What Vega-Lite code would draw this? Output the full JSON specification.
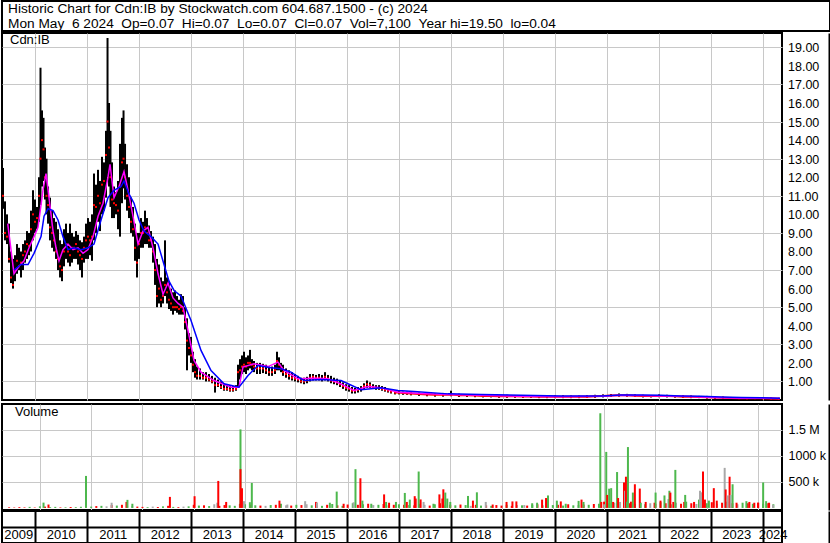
{
  "$schema": "https://vega.github.io/schema/vega-lite/v6.json",
  "background": "white",
  "padding": 0,
  "spacing": 0,
  "resolve": {"scale": {"color": "independent"}},
  "config": {
    "font": "Liberation Sans",
    "view": {"stroke": "black", "strokeWidth": 2},
    "axis": {"labelFont": "Liberation Sans", "labelColor": "black", "labelFontSize": 12.5, "gridColor": "#c8c8c8", "gridWidth": 1, "gridOpacity": 1, "labelOverlap": false}
  },
  "datasets": {
    "px": [
      {"t":2009.378,"hi":12.5,"lo":10.3,"cl":11.0},{"t":2009.417,"hi":10.7,"lo":8.6,"cl":9.0},{"t":2009.455,"hi":10.0,"lo":8.4,"cl":8.8},{"t":2009.494,"hi":9.5,"lo":7.4,"cl":7.6},{"t":2009.532,"hi":8.0,"lo":6.3,"cl":6.6},{"t":2009.571,"hi":7.6,"lo":6.0,"cl":6.2},{"t":2009.609,"hi":7.8,"lo":6.4,"cl":7.0},{"t":2009.648,"hi":8.4,"lo":6.8,"cl":7.5},{"t":2009.686,"hi":8.2,"lo":7.0,"cl":7.2},{"t":2009.725,"hi":8.0,"lo":6.6,"cl":7.4},{"t":2009.763,"hi":8.4,"lo":7.0,"cl":7.8},{"t":2009.802,"hi":8.6,"lo":7.4,"cl":8.0},{"t":2009.840,"hi":9.1,"lo":7.6,"cl":8.4},{"t":2009.879,"hi":9.0,"lo":7.8,"cl":8.3},{"t":2009.917,"hi":10.2,"lo":8.0,"cl":9.2},{"t":2009.956,"hi":11.3,"lo":8.6,"cl":10.0},{"t":2009.994,"hi":10.8,"lo":9.0,"cl":9.6},{"t":2010.033,"hi":10.4,"lo":9.2,"cl":9.8},{"t":2010.071,"hi":12.0,"lo":9.6,"cl":11.0},{"t":2010.100,"hi":17.9,"lo":10.5,"cl":13.0},{"t":2010.129,"hi":15.6,"lo":11.5,"cl":14.0},{"t":2010.158,"hi":15.2,"lo":11.8,"cl":13.5},{"t":2010.187,"hi":13.6,"lo":10.8,"cl":12.0},{"t":2010.216,"hi":13.0,"lo":10.0,"cl":11.0},{"t":2010.245,"hi":11.5,"lo":9.5,"cl":10.5},{"t":2010.283,"hi":10.9,"lo":8.6,"cl":9.3},{"t":2010.322,"hi":10.2,"lo":8.2,"cl":9.0},{"t":2010.360,"hi":9.8,"lo":8.0,"cl":8.6},{"t":2010.399,"hi":9.6,"lo":7.6,"cl":8.0},{"t":2010.437,"hi":9.2,"lo":7.0,"cl":7.6},{"t":2010.476,"hi":8.6,"lo":6.6,"cl":7.2},{"t":2010.514,"hi":8.4,"lo":6.4,"cl":7.0},{"t":2010.552,"hi":9.2,"lo":7.2,"cl":8.0},{"t":2010.591,"hi":9.5,"lo":7.6,"cl":8.4},{"t":2010.629,"hi":9.0,"lo":7.4,"cl":8.0},{"t":2010.668,"hi":9.5,"lo":7.2,"cl":7.8},{"t":2010.706,"hi":9.0,"lo":7.4,"cl":8.2},{"t":2010.745,"hi":8.8,"lo":7.6,"cl":8.2},{"t":2010.783,"hi":9.1,"lo":7.6,"cl":8.4},{"t":2010.822,"hi":8.9,"lo":7.3,"cl":8.0},{"t":2010.860,"hi":8.6,"lo":7.0,"cl":7.8},{"t":2010.899,"hi":8.5,"lo":6.6,"cl":7.6},{"t":2010.937,"hi":8.8,"lo":7.4,"cl":8.2},{"t":2010.976,"hi":9.5,"lo":7.6,"cl":8.6},{"t":2011.014,"hi":9.8,"lo":7.6,"cl":8.8},{"t":2011.053,"hi":9.6,"lo":7.8,"cl":8.6},{"t":2011.091,"hi":10.0,"lo":7.5,"cl":8.8},{"t":2011.130,"hi":12.2,"lo":8.6,"cl":10.5},{"t":2011.168,"hi":11.6,"lo":9.0,"cl":10.4},{"t":2011.207,"hi":12.4,"lo":9.6,"cl":11.0},{"t":2011.245,"hi":11.8,"lo":9.1,"cl":10.6},{"t":2011.284,"hi":13.1,"lo":10.0,"cl":11.6},{"t":2011.322,"hi":12.8,"lo":10.2,"cl":11.8},{"t":2011.361,"hi":14.5,"lo":10.9,"cl":13.2},{"t":2011.390,"hi":19.5,"lo":12.0,"cl":15.0},{"t":2011.419,"hi":16.0,"lo":11.5,"cl":13.6},{"t":2011.447,"hi":14.5,"lo":10.4,"cl":12.0},{"t":2011.476,"hi":12.8,"lo":9.8,"cl":10.8},{"t":2011.515,"hi":11.5,"lo":9.8,"cl":10.6},{"t":2011.553,"hi":11.2,"lo":10.0,"cl":10.5},{"t":2011.592,"hi":11.8,"lo":9.2,"cl":10.2},{"t":2011.630,"hi":13.8,"lo":8.8,"cl":11.5},{"t":2011.669,"hi":15.2,"lo":10.6,"cl":12.8},{"t":2011.698,"hi":15.6,"lo":11.4,"cl":13.0},{"t":2011.727,"hi":13.8,"lo":10.8,"cl":12.0},{"t":2011.765,"hi":12.7,"lo":10.2,"cl":11.0},{"t":2011.803,"hi":12.0,"lo":9.8,"cl":10.4},{"t":2011.842,"hi":10.9,"lo":9.0,"cl":9.6},{"t":2011.880,"hi":10.4,"lo":8.8,"cl":9.2},{"t":2011.919,"hi":9.5,"lo":7.5,"cl":8.2},{"t":2011.957,"hi":9.0,"lo":6.6,"cl":7.4},{"t":2011.996,"hi":9.0,"lo":7.6,"cl":8.4},{"t":2012.034,"hi":9.8,"lo":8.2,"cl":9.0},{"t":2012.073,"hi":9.6,"lo":8.2,"cl":9.0},{"t":2012.111,"hi":10.2,"lo":8.4,"cl":9.3},{"t":2012.150,"hi":9.8,"lo":8.4,"cl":9.0},{"t":2012.188,"hi":9.4,"lo":8.2,"cl":8.6},{"t":2012.227,"hi":9.1,"lo":8.2,"cl":8.6},{"t":2012.265,"hi":8.8,"lo":7.4,"cl":8.0},{"t":2012.304,"hi":8.4,"lo":6.2,"cl":7.0},{"t":2012.342,"hi":7.6,"lo":5.0,"cl":5.6},{"t":2012.381,"hi":7.3,"lo":5.2,"cl":6.0},{"t":2012.419,"hi":6.6,"lo":5.0,"cl":5.4},{"t":2012.458,"hi":6.4,"lo":5.2,"cl":5.6},{"t":2012.496,"hi":8.6,"lo":5.6,"cl":6.2},{"t":2012.535,"hi":6.6,"lo":5.2,"cl":5.8},{"t":2012.573,"hi":6.4,"lo":4.9,"cl":5.4},{"t":2012.612,"hi":6.0,"lo":4.8,"cl":5.2},{"t":2012.650,"hi":5.8,"lo":4.6,"cl":5.0},{"t":2012.689,"hi":5.9,"lo":4.8,"cl":5.0},{"t":2012.727,"hi":5.6,"lo":4.7,"cl":5.0},{"t":2012.766,"hi":5.4,"lo":4.6,"cl":4.9},{"t":2012.804,"hi":5.7,"lo":4.6,"cl":5.0},{"t":2012.843,"hi":5.6,"lo":4.6,"cl":4.8},{"t":2012.881,"hi":5.0,"lo":3.8,"cl":4.2},{"t":2012.920,"hi":4.4,"lo":1.6,"cl":3.2},{"t":2012.958,"hi":3.6,"lo":2.4,"cl":2.8},{"t":2012.997,"hi":3.4,"lo":2.0,"cl":2.4},{"t":2013.035,"hi":2.6,"lo":1.5,"cl":1.9},{"t":2013.074,"hi":2.2,"lo":1.2,"cl":1.5},{"t":2013.112,"hi":1.8,"lo":1.1,"cl":1.3},{"t":2013.170,"hi":1.7,"lo":1.1,"cl":1.3},{"t":2013.228,"hi":1.5,"lo":1.1,"cl":1.2},{"t":2013.285,"hi":1.5,"lo":1.0,"cl":1.2},{"t":2013.343,"hi":1.4,"lo":1.0,"cl":1.1},{"t":2013.401,"hi":1.3,"lo":0.9,"cl":1.0},{"t":2013.459,"hi":1.2,"lo":0.4,"cl":0.8},{"t":2013.516,"hi":1.1,"lo":0.7,"cl":0.8},{"t":2013.574,"hi":1.0,"lo":0.6,"cl":0.7},{"t":2013.632,"hi":0.9,"lo":0.5,"cl":0.6},{"t":2013.690,"hi":0.8,"lo":0.5,"cl":0.6},{"t":2013.747,"hi":0.8,"lo":0.45,"cl":0.55},{"t":2013.805,"hi":0.75,"lo":0.45,"cl":0.55},{"t":2013.863,"hi":0.8,"lo":0.5,"cl":0.6},{"t":2013.901,"hi":1.9,"lo":0.7,"cl":1.5},{"t":2013.940,"hi":2.2,"lo":1.1,"cl":1.6},{"t":2013.978,"hi":2.4,"lo":1.4,"cl":1.8},{"t":2014.017,"hi":2.6,"lo":1.5,"cl":1.9},{"t":2014.055,"hi":2.3,"lo":1.4,"cl":1.8},{"t":2014.094,"hi":2.4,"lo":1.6,"cl":2.0},{"t":2014.132,"hi":2.7,"lo":1.7,"cl":2.0},{"t":2014.171,"hi":2.2,"lo":1.6,"cl":1.9},{"t":2014.209,"hi":2.1,"lo":1.5,"cl":1.8},{"t":2014.267,"hi":2.0,"lo":1.4,"cl":1.7},{"t":2014.325,"hi":2.0,"lo":1.4,"cl":1.7},{"t":2014.382,"hi":1.95,"lo":1.45,"cl":1.7},{"t":2014.440,"hi":1.9,"lo":1.4,"cl":1.6},{"t":2014.498,"hi":1.8,"lo":1.3,"cl":1.5},{"t":2014.556,"hi":1.8,"lo":1.3,"cl":1.5},{"t":2014.613,"hi":1.9,"lo":1.4,"cl":1.6},{"t":2014.652,"hi":2.6,"lo":1.6,"cl":2.1},{"t":2014.690,"hi":2.3,"lo":1.6,"cl":1.9},{"t":2014.729,"hi":2.0,"lo":1.5,"cl":1.7},{"t":2014.767,"hi":1.9,"lo":1.3,"cl":1.5},{"t":2014.825,"hi":1.7,"lo":1.2,"cl":1.4},{"t":2014.883,"hi":1.6,"lo":1.1,"cl":1.3},{"t":2014.941,"hi":1.5,"lo":1.05,"cl":1.2},{"t":2014.998,"hi":1.4,"lo":1.0,"cl":1.15},{"t":2015.056,"hi":1.3,"lo":0.95,"cl":1.1},{"t":2015.114,"hi":1.2,"lo":0.9,"cl":1.0},{"t":2015.172,"hi":1.2,"lo":0.85,"cl":1.0},{"t":2015.229,"hi":1.25,"lo":0.9,"cl":1.05},{"t":2015.287,"hi":1.4,"lo":1.0,"cl":1.2},{"t":2015.345,"hi":1.4,"lo":1.05,"cl":1.25},{"t":2015.402,"hi":1.35,"lo":1.05,"cl":1.2},{"t":2015.460,"hi":1.4,"lo":1.05,"cl":1.2},{"t":2015.518,"hi":1.35,"lo":1.0,"cl":1.15},{"t":2015.576,"hi":1.5,"lo":1.05,"cl":1.25},{"t":2015.633,"hi":1.35,"lo":1.0,"cl":1.15},{"t":2015.691,"hi":1.3,"lo":0.9,"cl":1.05},{"t":2015.749,"hi":1.2,"lo":0.85,"cl":1.0},{"t":2015.807,"hi":1.15,"lo":0.8,"cl":0.95},{"t":2015.864,"hi":1.05,"lo":0.7,"cl":0.85},{"t":2015.922,"hi":0.95,"lo":0.6,"cl":0.75},{"t":2015.980,"hi":0.85,"lo":0.5,"cl":0.65},{"t":2016.038,"hi":0.8,"lo":0.45,"cl":0.6},{"t":2016.095,"hi":0.7,"lo":0.35,"cl":0.5},{"t":2016.153,"hi":0.65,"lo":0.35,"cl":0.5},{"t":2016.211,"hi":0.7,"lo":0.4,"cl":0.55},{"t":2016.269,"hi":0.75,"lo":0.45,"cl":0.6},{"t":2016.326,"hi":0.9,"lo":0.55,"cl":0.75},{"t":2016.384,"hi":1.05,"lo":0.65,"cl":0.85},{"t":2016.442,"hi":0.95,"lo":0.65,"cl":0.8},{"t":2016.500,"hi":0.85,"lo":0.6,"cl":0.7},{"t":2016.557,"hi":0.8,"lo":0.55,"cl":0.65},{"t":2016.615,"hi":0.8,"lo":0.55,"cl":0.65},{"t":2016.673,"hi":0.75,"lo":0.5,"cl":0.6},{"t":2016.730,"hi":0.7,"lo":0.45,"cl":0.55},{"t":2016.788,"hi":0.6,"lo":0.4,"cl":0.5},{"t":2016.846,"hi":0.55,"lo":0.35,"cl":0.45},{"t":2016.923,"hi":0.5,"lo":0.3,"cl":0.4},{"t":2017.000,"hi":0.5,"lo":0.3,"cl":0.4},
      {"t":2017.077,"hi":0.45,"lo":0.28,"cl":0.38},{"t":2017.154,"hi":0.45,"lo":0.28,"cl":0.36},{"t":2017.231,"hi":0.42,"lo":0.25,"cl":0.35},{"t":2017.385,"hi":0.4,"lo":0.22,"cl":0.32},{"t":2017.539,"hi":0.38,"lo":0.2,"cl":0.3},{"t":2017.693,"hi":0.36,"lo":0.18,"cl":0.28},{"t":2017.847,"hi":0.38,"lo":0.18,"cl":0.28},{"t":2018.001,"hi":0.5,"lo":0.2,"cl":0.3},{"t":2018.155,"hi":0.34,"lo":0.16,"cl":0.26},{"t":2018.309,"hi":0.32,"lo":0.16,"cl":0.25},{"t":2018.463,"hi":0.32,"lo":0.15,"cl":0.24},{"t":2018.617,"hi":0.3,"lo":0.14,"cl":0.22},{"t":2018.771,"hi":0.3,"lo":0.14,"cl":0.22},{"t":2018.925,"hi":0.28,"lo":0.12,"cl":0.2},{"t":2019.078,"hi":0.28,"lo":0.12,"cl":0.2},{"t":2019.232,"hi":0.27,"lo":0.12,"cl":0.2},{"t":2019.386,"hi":0.26,"lo":0.12,"cl":0.19},{"t":2019.540,"hi":0.26,"lo":0.12,"cl":0.19},{"t":2019.694,"hi":0.25,"lo":0.1,"cl":0.18},{"t":2019.848,"hi":0.25,"lo":0.1,"cl":0.18},{"t":2020.002,"hi":0.26,"lo":0.1,"cl":0.18},{"t":2020.156,"hi":0.25,"lo":0.1,"cl":0.17},{"t":2020.310,"hi":0.24,"lo":0.1,"cl":0.17},{"t":2020.464,"hi":0.24,"lo":0.1,"cl":0.17},{"t":2020.618,"hi":0.25,"lo":0.12,"cl":0.18},{"t":2020.772,"hi":0.28,"lo":0.12,"cl":0.2},{"t":2020.926,"hi":0.3,"lo":0.14,"cl":0.22},{"t":2021.080,"hi":0.32,"lo":0.16,"cl":0.24},{"t":2021.234,"hi":0.35,"lo":0.18,"cl":0.26},{"t":2021.388,"hi":0.33,"lo":0.18,"cl":0.25},{"t":2021.542,"hi":0.3,"lo":0.16,"cl":0.23},{"t":2021.696,"hi":0.28,"lo":0.14,"cl":0.22},{"t":2021.850,"hi":0.27,"lo":0.14,"cl":0.21},{"t":2022.004,"hi":0.3,"lo":0.15,"cl":0.22},{"t":2022.157,"hi":0.28,"lo":0.14,"cl":0.21},{"t":2022.311,"hi":0.27,"lo":0.13,"cl":0.2},{"t":2022.465,"hi":0.25,"lo":0.12,"cl":0.18},{"t":2022.619,"hi":0.24,"lo":0.1,"cl":0.17},{"t":2022.773,"hi":0.22,"lo":0.1,"cl":0.16},{"t":2022.927,"hi":0.22,"lo":0.08,"cl":0.15},{"t":2023.081,"hi":0.2,"lo":0.06,"cl":0.13},{"t":2023.235,"hi":0.18,"lo":0.06,"cl":0.12},{"t":2023.389,"hi":0.16,"lo":0.06,"cl":0.11},{"t":2023.543,"hi":0.15,"lo":0.05,"cl":0.1},{"t":2023.697,"hi":0.14,"lo":0.05,"cl":0.09},{"t":2023.851,"hi":0.15,"lo":0.06,"cl":0.1},{"t":2024.005,"hi":0.13,"lo":0.05,"cl":0.09},{"t":2024.159,"hi":0.12,"lo":0.05,"cl":0.08},{"t":2024.313,"hi":0.1,"lo":0.05,"cl":0.07}
    ],
    "ma": [
      {"s":"short","t":2009.469,"v":9.5},{"s":"short","t":2009.532,"v":8.1},{"s":"short","t":2009.590,"v":6.8},{"s":"short","t":2009.686,"v":7.2},{"s":"short","t":2009.783,"v":7.5},{"s":"short","t":2009.879,"v":8.2},{"s":"short","t":2009.975,"v":8.8},{"s":"short","t":2010.052,"v":9.3},{"s":"short","t":2010.148,"v":11.3},{"s":"short","t":2010.206,"v":12.2},{"s":"short","t":2010.264,"v":10.9},{"s":"short","t":2010.341,"v":9.1},{"s":"short","t":2010.399,"v":8.2},{"s":"short","t":2010.456,"v":7.5},{"s":"short","t":2010.533,"v":8.1},{"s":"short","t":2010.629,"v":8.4},{"s":"short","t":2010.726,"v":8.1},{"s":"short","t":2010.822,"v":8.2},{"s":"short","t":2010.918,"v":7.9},{"s":"short","t":2011.014,"v":8.1},{"s":"short","t":2011.111,"v":8.8},{"s":"short","t":2011.207,"v":9.9},{"s":"short","t":2011.303,"v":10.6},{"s":"short","t":2011.399,"v":12.0},{"s":"short","t":2011.438,"v":12.7},{"s":"short","t":2011.515,"v":10.9},{"s":"short","t":2011.611,"v":11.5},{"s":"short","t":2011.707,"v":12.3},{"s":"short","t":2011.784,"v":11.3},{"s":"short","t":2011.880,"v":9.9},{"s":"short","t":2011.977,"v":8.4},{"s":"short","t":2012.073,"v":9.1},{"s":"short","t":2012.169,"v":9.3},{"s":"short","t":2012.265,"v":8.2},{"s":"short","t":2012.362,"v":6.8},{"s":"short","t":2012.458,"v":5.7},{"s":"short","t":2012.554,"v":6.3},{"s":"short","t":2012.650,"v":5.5},{"s":"short","t":2012.747,"v":5.2},{"s":"short","t":2012.843,"v":5.0},{"s":"short","t":2012.939,"v":3.74},{"s":"short","t":2013.054,"v":2.13},{"s":"short","t":2013.189,"v":1.5},{"s":"short","t":2013.439,"v":1.05},{"s":"short","t":2013.767,"v":0.69},{"s":"short","t":2013.920,"v":0.69},{"s":"short","t":2013.997,"v":1.77},{"s":"short","t":2014.209,"v":1.95},{"s":"short","t":2014.479,"v":1.8},{"s":"short","t":2014.671,"v":2.04},{"s":"short","t":2014.787,"v":1.59},{"s":"short","t":2015.056,"v":1.14},{"s":"short","t":2015.364,"v":1.17},{"s":"short","t":2015.633,"v":1.14},{"s":"short","t":2015.884,"v":0.87},{"s":"short","t":2016.134,"v":0.51},{"s":"short","t":2016.403,"v":0.73},{"s":"short","t":2016.653,"v":0.66},{"s":"short","t":2016.981,"v":0.42},{"s":"short","t":2017.423,"v":0.35},{"s":"short","t":2017.943,"v":0.3},{"s":"short","t":2018.578,"v":0.25},{"s":"short","t":2019.348,"v":0.2},{"s":"short","t":2020.118,"v":0.18},{"s":"short","t":2020.888,"v":0.2},{"s":"short","t":2021.273,"v":0.25},{"s":"short","t":2021.657,"v":0.24},{"s":"short","t":2022.042,"v":0.22},{"s":"short","t":2022.427,"v":0.2},{"s":"short","t":2022.812,"v":0.16},{"s":"short","t":2023.197,"v":0.12},{"s":"short","t":2023.582,"v":0.1},{"s":"short","t":2023.967,"v":0.1},{"s":"short","t":2024.333,"v":0.08},
      {"s":"long","t":2009.590,"v":7.0},{"s":"long","t":2009.725,"v":7.3},{"s":"long","t":2009.860,"v":7.3},{"s":"long","t":2009.975,"v":7.9},{"s":"long","t":2010.110,"v":8.8},{"s":"long","t":2010.168,"v":9.9},{"s":"long","t":2010.245,"v":10.3},{"s":"long","t":2010.341,"v":10.2},{"s":"long","t":2010.437,"v":9.7},{"s":"long","t":2010.533,"v":8.8},{"s":"long","t":2010.629,"v":8.1},{"s":"long","t":2010.745,"v":8.2},{"s":"long","t":2010.880,"v":8.1},{"s":"long","t":2011.014,"v":8.2},{"s":"long","t":2011.130,"v":8.4},{"s":"long","t":2011.265,"v":9.7},{"s":"long","t":2011.399,"v":10.9},{"s":"long","t":2011.515,"v":11.3},{"s":"long","t":2011.649,"v":11.5},{"s":"long","t":2011.707,"v":11.8},{"s":"long","t":2011.803,"v":11.1},{"s":"long","t":2011.900,"v":10.6},{"s":"long","t":2011.996,"v":9.7},{"s":"long","t":2012.092,"v":9.1},{"s":"long","t":2012.227,"v":8.8},{"s":"long","t":2012.362,"v":8.4},{"s":"long","t":2012.477,"v":7.3},{"s":"long","t":2012.573,"v":6.4},{"s":"long","t":2012.670,"v":5.9},{"s":"long","t":2012.804,"v":5.6},{"s":"long","t":2012.997,"v":4.28},{"s":"long","t":2013.189,"v":2.67},{"s":"long","t":2013.382,"v":1.59},{"s":"long","t":2013.632,"v":0.87},{"s":"long","t":2013.920,"v":0.69},{"s":"long","t":2014.094,"v":1.32},{"s":"long","t":2014.286,"v":1.86},{"s":"long","t":2014.536,"v":1.74},{"s":"long","t":2014.729,"v":1.68},{"s":"long","t":2014.921,"v":1.5},{"s":"long","t":2015.172,"v":1.05},{"s":"long","t":2015.499,"v":1.1},{"s":"long","t":2015.884,"v":1.05},{"s":"long","t":2016.269,"v":0.55},{"s":"long","t":2016.653,"v":0.66},{"s":"long","t":2016.981,"v":0.51},{"s":"long","t":2017.289,"v":0.46},{"s":"long","t":2017.943,"v":0.33},{"s":"long","t":2018.578,"v":0.3},{"s":"long","t":2019.348,"v":0.25},{"s":"long","t":2020.118,"v":0.22},{"s":"long","t":2020.888,"v":0.22},{"s":"long","t":2021.273,"v":0.27},{"s":"long","t":2021.657,"v":0.27},{"s":"long","t":2022.042,"v":0.25},{"s":"long","t":2022.427,"v":0.22},{"s":"long","t":2022.812,"v":0.2},{"s":"long","t":2023.197,"v":0.16},{"s":"long","t":2023.582,"v":0.13},{"s":"long","t":2023.967,"v":0.12},{"s":"long","t":2024.333,"v":0.1}
    ],
    "vol": [
      {"t":2009.4,"v":12000,"c":"down"},{"t":2009.5,"v":8000,"c":"down"},{"t":2009.6,"v":15000,"c":"down"},{"t":2009.7,"v":10000,"c":"down"},{"t":2009.8,"v":20000,"c":"up"},{"t":2009.9,"v":8000,"c":"down"},
      {"t":2010.0,"v":30000,"c":"up"},{"t":2010.1,"v":25000,"c":"down"},{"t":2010.2,"v":15000,"c":"up"},{"t":2010.3,"v":20000,"c":"up"},{"t":2010.4,"v":10000,"c":"down"},{"t":2010.5,"v":12000,"c":"up"},{"t":2010.6,"v":18000,"c":"down"},{"t":2010.7,"v":15000,"c":"up"},{"t":2010.8,"v":22000,"c":"up"},{"t":2010.9,"v":10000,"c":"down"},
      {"t":2011.0,"v":25000,"c":"up"},{"t":2011.1,"v":35000,"c":"down"},{"t":2011.2,"v":40000,"c":"up"},{"t":2011.3,"v":30000,"c":"flat"},{"t":2011.4,"v":55000,"c":"down"},{"t":2011.5,"v":45000,"c":"up"},{"t":2011.6,"v":60000,"c":"down"},{"t":2011.7,"v":30000,"c":"up"},{"t":2011.8,"v":35000,"c":"flat"},{"t":2011.9,"v":25000,"c":"down"},
      {"t":2012.0,"v":20000,"c":"down"},{"t":2012.1,"v":15000,"c":"up"},{"t":2012.2,"v":25000,"c":"flat"},{"t":2012.3,"v":18000,"c":"down"},{"t":2012.4,"v":30000,"c":"up"},{"t":2012.5,"v":40000,"c":"down"},{"t":2012.6,"v":20000,"c":"up"},{"t":2012.7,"v":15000,"c":"down"},{"t":2012.8,"v":25000,"c":"flat"},{"t":2012.9,"v":30000,"c":"up"},
      {"t":2013.0,"v":60000,"c":"down"},{"t":2013.1,"v":45000,"c":"up"},{"t":2013.2,"v":50000,"c":"down"},{"t":2013.3,"v":35000,"c":"up"},{"t":2013.4,"v":70000,"c":"flat"},{"t":2013.5,"v":40000,"c":"down"},{"t":2013.6,"v":55000,"c":"down"},{"t":2013.7,"v":50000,"c":"up"},{"t":2013.8,"v":40000,"c":"up"},{"t":2013.9,"v":80000,"c":"down"},
      {"t":2014.0,"v":70000,"c":"up"},{"t":2014.1,"v":60000,"c":"down"},{"t":2014.2,"v":50000,"c":"up"},{"t":2014.3,"v":45000,"c":"down"},{"t":2014.4,"v":40000,"c":"flat"},{"t":2014.5,"v":55000,"c":"up"},{"t":2014.6,"v":60000,"c":"down"},{"t":2014.7,"v":80000,"c":"up"},{"t":2014.8,"v":50000,"c":"flat"},{"t":2014.9,"v":45000,"c":"down"},
      {"t":2015.0,"v":60000,"c":"up"},{"t":2015.1,"v":55000,"c":"down"},{"t":2015.2,"v":70000,"c":"flat"},{"t":2015.3,"v":50000,"c":"up"},{"t":2015.4,"v":45000,"c":"down"},{"t":2015.5,"v":40000,"c":"up"},{"t":2015.6,"v":60000,"c":"down"},{"t":2015.7,"v":75000,"c":"up"},{"t":2015.8,"v":50000,"c":"down"},{"t":2015.9,"v":40000,"c":"up"},
      {"t":2016.0,"v":65000,"c":"down"},{"t":2016.1,"v":90000,"c":"up"},{"t":2016.2,"v":60000,"c":"down"},{"t":2016.3,"v":70000,"c":"up"},{"t":2016.4,"v":80000,"c":"down"},{"t":2016.5,"v":55000,"c":"flat"},{"t":2016.6,"v":60000,"c":"up"},{"t":2016.7,"v":75000,"c":"down"},{"t":2016.8,"v":50000,"c":"up"},{"t":2016.9,"v":60000,"c":"down"},
      {"t":2017.0,"v":70000,"c":"up"},{"t":2017.1,"v":60000,"c":"down"},{"t":2017.2,"v":55000,"c":"up"},{"t":2017.3,"v":50000,"c":"down"},{"t":2017.4,"v":80000,"c":"up"},{"t":2017.5,"v":60000,"c":"flat"},{"t":2017.6,"v":45000,"c":"down"},{"t":2017.7,"v":70000,"c":"up"},{"t":2017.8,"v":90000,"c":"down"},{"t":2017.9,"v":50000,"c":"up"},
      {"t":2018.0,"v":60000,"c":"down"},{"t":2018.1,"v":50000,"c":"up"},{"t":2018.2,"v":65000,"c":"down"},{"t":2018.3,"v":55000,"c":"up"},{"t":2018.4,"v":40000,"c":"flat"},{"t":2018.5,"v":60000,"c":"down"},{"t":2018.6,"v":45000,"c":"up"},{"t":2018.7,"v":50000,"c":"down"},{"t":2018.8,"v":40000,"c":"up"},{"t":2018.9,"v":55000,"c":"down"},
      {"t":2019.0,"v":45000,"c":"down"},{"t":2019.1,"v":60000,"c":"up"},{"t":2019.2,"v":40000,"c":"down"},{"t":2019.3,"v":55000,"c":"flat"},{"t":2019.4,"v":50000,"c":"up"},{"t":2019.5,"v":45000,"c":"down"},{"t":2019.6,"v":60000,"c":"up"},{"t":2019.7,"v":70000,"c":"down"},{"t":2019.8,"v":50000,"c":"up"},{"t":2019.9,"v":45000,"c":"down"},
      {"t":2020.0,"v":55000,"c":"up"},{"t":2020.1,"v":60000,"c":"down"},{"t":2020.2,"v":45000,"c":"up"},{"t":2020.3,"v":70000,"c":"down"},{"t":2020.4,"v":50000,"c":"up"},{"t":2020.5,"v":55000,"c":"flat"},{"t":2020.6,"v":65000,"c":"down"},{"t":2020.7,"v":60000,"c":"up"},{"t":2020.8,"v":75000,"c":"down"},{"t":2020.9,"v":80000,"c":"up"},
      {"t":2021.0,"v":120000,"c":"down"},{"t":2021.1,"v":90000,"c":"up"},{"t":2021.2,"v":100000,"c":"flat"},{"t":2021.3,"v":110000,"c":"down"},{"t":2021.4,"v":130000,"c":"up"},{"t":2021.5,"v":90000,"c":"down"},{"t":2021.6,"v":80000,"c":"up"},{"t":2021.7,"v":110000,"c":"down"},{"t":2021.8,"v":70000,"c":"up"},{"t":2021.9,"v":90000,"c":"flat"},
      {"t":2022.0,"v":80000,"c":"down"},{"t":2022.1,"v":110000,"c":"up"},{"t":2022.2,"v":90000,"c":"down"},{"t":2022.3,"v":70000,"c":"up"},{"t":2022.4,"v":100000,"c":"flat"},{"t":2022.5,"v":80000,"c":"down"},{"t":2022.6,"v":120000,"c":"up"},{"t":2022.7,"v":90000,"c":"down"},{"t":2022.8,"v":75000,"c":"flat"},{"t":2022.9,"v":100000,"c":"down"},
      {"t":2023.0,"v":90000,"c":"up"},{"t":2023.1,"v":110000,"c":"down"},{"t":2023.2,"v":80000,"c":"flat"},{"t":2023.3,"v":100000,"c":"down"},{"t":2023.4,"v":120000,"c":"up"},{"t":2023.5,"v":90000,"c":"down"},{"t":2023.6,"v":70000,"c":"flat"},{"t":2023.7,"v":100000,"c":"up"},{"t":2023.8,"v":90000,"c":"down"},{"t":2023.9,"v":80000,"c":"up"},
      {"t":2024.0,"v":100000,"c":"down"},{"t":2024.1,"v":80000,"c":"up"},{"t":2024.2,"v":90000,"c":"down"},{"t":2024.3,"v":70000,"c":"up"},
      {"t":2010.071,"v":102000,"c":"up"},{"t":2010.168,"v":65000,"c":"down"},{"t":2010.899,"v":615000,"c":"up"},{"t":2011.399,"v":100000,"c":"flat"},{"t":2011.688,"v":115000,"c":"down"},{"t":2011.707,"v":155000,"c":"up"},{"t":2011.803,"v":80000,"c":"up"},{"t":2012.535,"v":212000,"c":"down"},{"t":2013.016,"v":225000,"c":"down"},{"t":2013.459,"v":100000,"c":"flat"},{"t":2013.478,"v":519000,"c":"down"},{"t":2013.632,"v":115000,"c":"down"},{"t":2013.911,"v":1510000,"c":"up"},{"t":2013.911,"v":745000,"c":"down"},{"t":2013.940,"v":378000,"c":"down"},{"t":2013.978,"v":130000,"c":"flat"},{"t":2014.094,"v":110000,"c":"up"},{"t":2014.132,"v":480000,"c":"up"},{"t":2014.671,"v":140000,"c":"down"},{"t":2014.825,"v":65000,"c":"flat"},{"t":2015.172,"v":130000,"c":"flat"},{"t":2015.384,"v":115000,"c":"down"},{"t":2015.402,"v":105000,"c":"flat"},{"t":2015.653,"v":100000,"c":"up"},{"t":2015.787,"v":314000,"c":"up"},{"t":2015.922,"v":80000,"c":"down"},{"t":2016.115,"v":108000,"c":"flat"},{"t":2016.153,"v":745000,"c":"up"},{"t":2016.249,"v":570000,"c":"down"},{"t":2016.288,"v":140000,"c":"up"},{"t":2016.461,"v":80000,"c":"up"},{"t":2016.711,"v":260000,"c":"down"},{"t":2016.750,"v":115000,"c":"up"},{"t":2016.808,"v":100000,"c":"down"},{"t":2016.942,"v":115000,"c":"up"},{"t":2017.115,"v":288000,"c":"up"},{"t":2017.154,"v":115000,"c":"down"},{"t":2017.212,"v":160000,"c":"up"},{"t":2017.308,"v":226000,"c":"down"},{"t":2017.327,"v":180000,"c":"down"},{"t":2017.385,"v":700000,"c":"up"},{"t":2017.423,"v":163000,"c":"down"},{"t":2017.481,"v":115000,"c":"flat"},{"t":2017.673,"v":80000,"c":"up"},{"t":2017.789,"v":260000,"c":"down"},{"t":2017.847,"v":180000,"c":"down"},{"t":2017.866,"v":358000,"c":"down"},{"t":2017.904,"v":295000,"c":"up"},{"t":2017.943,"v":180000,"c":"up"},{"t":2018.001,"v":115000,"c":"up"},{"t":2018.347,"v":230000,"c":"up"},{"t":2018.443,"v":140000,"c":"down"},{"t":2018.520,"v":300000,"c":"up"},{"t":2018.693,"v":115000,"c":"flat"},{"t":2018.828,"v":65000,"c":"down"},{"t":2019.098,"v":115000,"c":"down"},{"t":2019.213,"v":125000,"c":"down"},{"t":2019.290,"v":125000,"c":"down"},{"t":2019.444,"v":55000,"c":"flat"},{"t":2019.598,"v":90000,"c":"up"},{"t":2019.694,"v":100000,"c":"up"},{"t":2019.791,"v":160000,"c":"down"},{"t":2019.868,"v":190000,"c":"down"},{"t":2019.906,"v":240000,"c":"up"},{"t":2020.079,"v":140000,"c":"up"},{"t":2020.156,"v":125000,"c":"down"},{"t":2020.252,"v":80000,"c":"up"},{"t":2020.503,"v":135000,"c":"up"},{"t":2020.560,"v":160000,"c":"down"},{"t":2020.599,"v":115000,"c":"up"},{"t":2020.926,"v":1820000,"c":"up"},{"t":2020.945,"v":115000,"c":"down"},{"t":2021.003,"v":70000,"c":"flat"},{"t":2021.042,"v":1077000,"c":"up"},{"t":2021.061,"v":250000,"c":"down"},{"t":2021.099,"v":370000,"c":"up"},{"t":2021.138,"v":380000,"c":"up"},{"t":2021.176,"v":115000,"c":"down"},{"t":2021.253,"v":690000,"c":"up"},{"t":2021.273,"v":190000,"c":"down"},{"t":2021.311,"v":115000,"c":"flat"},{"t":2021.388,"v":490000,"c":"down"},{"t":2021.407,"v":330000,"c":"flat"},{"t":2021.426,"v":600000,"c":"down"},{"t":2021.446,"v":120000,"c":"up"},{"t":2021.465,"v":1170000,"c":"up"},{"t":2021.523,"v":120000,"c":"down"},{"t":2021.561,"v":295000,"c":"up"},{"t":2021.600,"v":455000,"c":"down"},{"t":2021.696,"v":372000,"c":"down"},{"t":2021.715,"v":100000,"c":"up"},{"t":2021.811,"v":115000,"c":"down"},{"t":2021.984,"v":100000,"c":"down"},{"t":2022.004,"v":295000,"c":"up"},{"t":2022.100,"v":140000,"c":"down"},{"t":2022.177,"v":240000,"c":"up"},{"t":2022.254,"v":170000,"c":"flat"},{"t":2022.273,"v":330000,"c":"up"},{"t":2022.292,"v":295000,"c":"down"},{"t":2022.350,"v":115000,"c":"down"},{"t":2022.389,"v":731000,"c":"up"},{"t":2022.562,"v":115000,"c":"down"},{"t":2022.581,"v":250000,"c":"up"},{"t":2022.754,"v":115000,"c":"down"},{"t":2022.851,"v":160000,"c":"up"},{"t":2022.870,"v":330000,"c":"flat"},{"t":2022.909,"v":300000,"c":"flat"},{"t":2022.928,"v":700000,"c":"down"},{"t":2022.966,"v":160000,"c":"down"},{"t":2023.043,"v":140000,"c":"up"},{"t":2023.139,"v":380000,"c":"down"},{"t":2023.197,"v":140000,"c":"down"},{"t":2023.351,"v":770000,"c":"flat"},{"t":2023.370,"v":355000,"c":"down"},{"t":2023.409,"v":240000,"c":"flat"},{"t":2023.447,"v":600000,"c":"down"},{"t":2023.466,"v":250000,"c":"flat"},{"t":2023.505,"v":455000,"c":"up"},{"t":2023.582,"v":100000,"c":"down"},{"t":2023.774,"v":130000,"c":"up"},{"t":2023.832,"v":115000,"c":"down"},{"t":2023.928,"v":100000,"c":"down"},{"t":2024.005,"v":100000,"c":"down"},{"t":2024.101,"v":490000,"c":"up"},{"t":2024.159,"v":130000,"c":"up"},{"t":2024.217,"v":100000,"c":"down"},{"t":2024.294,"v":60000,"c":"flat"}
    ],
    "years": [
      {"label":"2009","mid":2009.68},{"label":"2010","mid":2010.5},{"label":"2011","mid":2011.5},{"label":"2012","mid":2012.5},{"label":"2013","mid":2013.5},{"label":"2014","mid":2014.5},{"label":"2015","mid":2015.5},{"label":"2016","mid":2016.5},{"label":"2017","mid":2017.5},{"label":"2018","mid":2018.5},{"label":"2019","mid":2019.5},{"label":"2020","mid":2020.5},{"label":"2021","mid":2021.5},{"label":"2022","mid":2022.5},{"label":"2023","mid":2023.5},{"label":"2024","mid":2024.2}
    ],
    "pticks": [
      {"p":1,"label":"1.00"},{"p":2,"label":"2.00"},{"p":3,"label":"3.00"},{"p":4,"label":"4.00"},{"p":5,"label":"5.00"},{"p":6,"label":"6.00"},{"p":7,"label":"7.00"},{"p":8,"label":"8.00"},{"p":9,"label":"9.00"},{"p":10,"label":"10.00"},{"p":11,"label":"11.00"},{"p":12,"label":"12.00"},{"p":13,"label":"13.00"},{"p":14,"label":"14.00"},{"p":15,"label":"15.00"},{"p":16,"label":"16.00"},{"p":17,"label":"17.00"},{"p":18,"label":"18.00"},{"p":19,"label":"19.00"}
    ],
    "header": [
      {"line":1,"text":"Historic Chart for Cdn:IB by Stockwatch.com 604.687.1500 - (c) 2024"},
      {"line":2,"text":"Mon May \u00a06 2024 \u00a0Op=0.07 \u00a0Hi=0.07 \u00a0Lo=0.07 \u00a0Cl=0.07 \u00a0Vol=7,100 \u00a0Year hi=19.50 \u00a0lo=0.04"}
    ]
  },
  "vconcat": [
    {
      "width": 828,
      "height": 30,
      "data": {"name": "header"},
      "mark": {"type": "text", "align": "left", "baseline": "middle", "fontSize": 13.7, "dx": 6, "color": "black"},
      "encoding": {
        "x": {"datum": 0, "type": "quantitative", "scale": {"domain": [0, 1]}, "axis": null},
        "y": {"field": "line", "type": "ordinal", "axis": null},
        "text": {"field": "text"}
      }
    },
    {
      "spacing": -10,
      "resolve": {"scale": {"color": "independent"}},
      "vconcat": [
        {
          "width": 780,
          "height": 367,
          "layer": [
            {
              "data": {"name": "px"},
              "mark": {"type": "rule", "color": "black", "strokeWidth": 2},
              "encoding": {
                "x": {"field": "t", "type": "quantitative", "scale": {"domain": [2009.359, 2024.371], "nice": false, "zero": false},
                      "axis": {"values": [2010,2011,2012,2013,2014,2015,2016,2017,2018,2019,2020,2021,2022,2023,2024], "grid": true, "labels": false, "ticks": false, "domain": false, "title": null, "minExtent": 0, "maxExtent": 0}},
                "y": {"field": "lo", "type": "quantitative", "scale": {"domain": [0, 19.77], "nice": false},
                      "axis": {"orient": "right", "values": [1,2,3,4,5,6,7,8,9,10,11,12,13,14,15,16,17,18,19], "grid": true, "ticks": false, "labels": false, "domain": true, "domainColor": "black", "domainWidth": 2, "offset": 47, "title": null}},
                "y2": {"field": "hi"}
              }
            },
            {
              "data": {"name": "px"},
              "transform": [{"filter": "datum.t >= 2016.9"}],
              "mark": {"type": "line", "color": "#ff0000", "strokeWidth": 2},
              "encoding": {
                "x": {"field": "t", "type": "quantitative"},
                "y": {"field": "cl", "type": "quantitative"}
              }
            },
            {
              "data": {"name": "px"},
              "mark": {"type": "point", "shape": "square", "filled": true, "size": 4, "color": "#ff0000", "opacity": 1},
              "encoding": {
                "x": {"field": "t", "type": "quantitative"},
                "y": {"field": "cl", "type": "quantitative"}
              }
            },
            {
              "data": {"name": "ma"},
              "mark": {"type": "line", "strokeWidth": 1.5},
              "encoding": {
                "x": {"field": "t", "type": "quantitative"},
                "y": {"field": "v", "type": "quantitative"},
                "color": {"field": "s", "type": "nominal", "scale": {"domain": ["short", "long"], "range": ["#ff00ff", "#0000ff"]}, "legend": null}
              }
            },
            {
              "data": {"values": [{"label": "Cdn:IB"}]},
              "mark": {"type": "text", "align": "left", "baseline": "top", "dx": 8, "dy": 1, "fontSize": 13, "color": "black"},
              "encoding": {
                "x": {"datum": 2009.359, "type": "quantitative"},
                "y": {"datum": 19.77, "type": "quantitative"},
                "text": {"field": "label"}
              }
            },
            {
              "data": {"name": "pticks"},
              "mark": {"type": "text", "align": "left", "baseline": "middle", "dx": 6, "dy": 1, "fontSize": 12.5, "color": "black"},
              "encoding": {
                "x": {"datum": 2024.371, "type": "quantitative"},
                "y": {"field": "p", "type": "quantitative"},
                "text": {"field": "label"}
              }
            }
          ]
        },
        {
          "width": 780,
          "height": 106,
          "layer": [
            {
              "data": {"name": "vol"},
              "mark": {"type": "bar", "size": 2, "orient": "vertical"},
              "encoding": {
                "x": {"field": "t", "type": "quantitative", "scale": {"domain": [2009.359, 2024.371], "nice": false, "zero": false},
                      "axis": {"values": [2010,2011,2012,2013,2014,2015,2016,2017,2018,2019,2020,2021,2022,2023,2024], "grid": true, "labels": false, "ticks": false, "domain": false, "title": null, "minExtent": 0, "maxExtent": 0}},
                "y": {"field": "v", "type": "quantitative", "stack": null, "scale": {"domain": [-40000, 1998000], "nice": false, "zero": false},
                      "axis": {"orient": "right", "values": [500000, 1000000, 1500000], "labelExpr": "datum.value >= 1500000 ? '1.5 M' : format(datum.value / 1000, 'd') + ' k'", "grid": true, "ticks": false, "domain": true, "domainColor": "black", "domainWidth": 2, "offset": 47, "labelPadding": -41, "labelAlign": "left", "labelBaseline": "middle", "labelFontSize": 12.5, "labelOverlap": false, "title": null}},
                "y2": {"datum": 0},
                "color": {"field": "c", "type": "nominal", "scale": {"domain": ["up", "down", "flat"], "range": ["#4db84d", "#ff0000", "#a8a8a8"]}, "legend": null}
              }
            },
            {
              "data": {"values": [{"label": "Volume"}]},
              "mark": {"type": "text", "align": "left", "baseline": "top", "dx": 8, "dy": 2, "fontSize": 13, "color": "black"},
              "encoding": {
                "x": {"datum": 2009.359, "type": "quantitative"},
                "y": {"datum": 1998000, "type": "quantitative"},
                "text": {"field": "label"}
              }
            }
          ]
        },
        {
          "width": 780,
          "height": 32,
          "data": {"name": "years"},
          "mark": {"type": "text", "fontSize": 13, "baseline": "middle", "color": "black"},
          "encoding": {
            "x": {"field": "mid", "type": "quantitative", "scale": {"domain": [2009.359, 2024.371], "nice": false, "zero": false},
                  "axis": {"values": [2010,2011,2012,2013,2014,2015,2016,2017,2018,2019,2020,2021,2022,2023,2024], "grid": true, "gridColor": "black", "gridWidth": 2, "labels": false, "ticks": false, "domain": false, "title": null, "minExtent": 0, "maxExtent": 0}},
            "y": {"datum": 0.5, "type": "quantitative", "scale": {"domain": [0, 2], "nice": false},
                  "axis": {"orient": "right", "values": [1], "grid": true, "gridColor": "black", "gridWidth": 2, "labels": false, "ticks": false, "domain": true, "domainColor": "black", "domainWidth": 2, "offset": 47, "title": null}},
            "text": {"field": "label"}
          }
        }
      ]
    }
  ]
}
